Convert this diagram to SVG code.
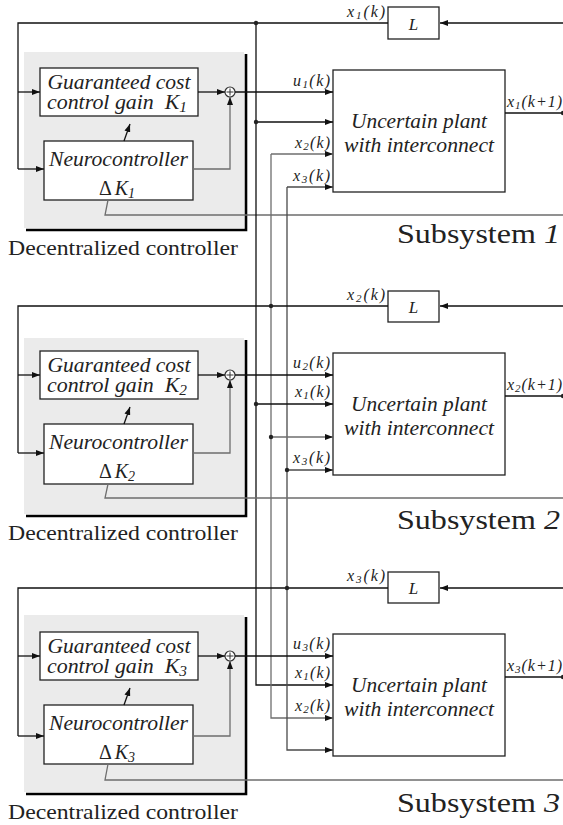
<svg xmlns="http://www.w3.org/2000/svg" width="563" height="825" viewBox="0 0 563 825">
<style>
.ln{fill:none;stroke:#111;stroke-width:1.3}
.gr{fill:none;stroke:#6e6e6e;stroke-width:1.3}
.dg{fill:none;stroke:#4a4a4a;stroke-width:1.3}
.box{fill:#fff;stroke:#222;stroke-width:1.3}
.panel{fill:#ebebeb;stroke:none}
.sh{fill:none;stroke:#000;stroke-width:2.6}
.t{font-family:'Liberation Serif','Times New Roman',Times,serif;fill:#222}
.it{font-family:'Liberation Serif','Times New Roman',Times,serif;font-style:italic;fill:#222}
.lb{font-family:'Liberation Serif','Times New Roman',Times,serif;font-style:italic;fill:#222;font-size:16px}
.sb{font-size:11px}
.dot{fill:#222}
.arr{marker-end:url(#ah)}
</style>
<defs>
<marker id="ah" markerUnits="userSpaceOnUse" markerWidth="8" markerHeight="6" refX="8" refY="3" orient="auto">
<path d="M0,0 L8,3 L0,6 z" fill="#111"/>
</marker>
</defs>

<!-- Subsystem 1 -->
<g id="panel1">
<rect class="panel" x="24" y="52" width="220" height="176"/>
<polyline class="sh" points="246,54 246,230 26,230"/>
</g>
<g id="gain1">
<rect class="box" x="40" y="68" width="158" height="48"/>
<text class="it" x="119" y="89" font-size="20" text-anchor="middle" textLength="143" lengthAdjust="spacingAndGlyphs">Guaranteed cost</text>
<text class="it" x="117" y="109" font-size="20" text-anchor="middle" textLength="140" lengthAdjust="spacingAndGlyphs">control gain <tspan dx="5">K</tspan><tspan font-size="14" dy="3">1</tspan></text>
</g>
<g id="neuro1">
<rect class="box" x="44" y="141" width="149" height="59"/>
<text class="it" x="118.5" y="166" font-size="20" text-anchor="middle" textLength="139" lengthAdjust="spacingAndGlyphs">Neurocontroller</text>
<text class="t" x="117" y="195" font-size="20" text-anchor="middle"><tspan>Δ</tspan><tspan font-style="italic" dx="3">K</tspan><tspan font-style="italic" font-size="14" dy="3">1</tspan></text>
</g>
<g id="sum1">
<circle cx="230" cy="92" r="5" fill="#fff" stroke="#333" stroke-width="1.2"/>
<path d="M226.5,92 H233.5 M230,88.5 V95.5" stroke="#333" stroke-width="1"/>
</g>
<g id="L1">
<rect class="box" x="388" y="7" width="51" height="32"/>
<text class="it" x="413.5" y="30" font-size="17" text-anchor="middle">L</text>
</g>
<g id="plant1">
<rect class="box" x="333" y="70" width="172" height="122"/>
<text class="it" x="419" y="128" font-size="20" text-anchor="middle" textLength="136" lengthAdjust="spacingAndGlyphs">Uncertain plant</text>
<text class="it" x="419" y="152" font-size="20" text-anchor="middle" textLength="150" lengthAdjust="spacingAndGlyphs">with interconnect</text>
</g>
<g id="text1">
<text class="t" x="8" y="255" font-size="22" textLength="230" lengthAdjust="spacingAndGlyphs">Decentralized controller</text>
<text class="t" x="397" y="243" font-size="28" textLength="163" lengthAdjust="spacingAndGlyphs">Subsystem <tspan font-style="italic">1</tspan></text>
</g>

<!-- Subsystem 2 -->
<g id="panel2">
<rect class="panel" x="24" y="338" width="220" height="176"/>
<polyline class="sh" points="246,340 246,516 26,516"/>
</g>
<g id="gain2">
<rect class="box" x="40" y="351" width="158" height="48"/>
<text class="it" x="119" y="372" font-size="20" text-anchor="middle" textLength="143" lengthAdjust="spacingAndGlyphs">Guaranteed cost</text>
<text class="it" x="117" y="392" font-size="20" text-anchor="middle" textLength="140" lengthAdjust="spacingAndGlyphs">control gain <tspan dx="5">K</tspan><tspan font-size="14" dy="3">2</tspan></text>
</g>
<g id="neuro2">
<rect class="box" x="44" y="424" width="149" height="60"/>
<text class="it" x="118.5" y="449" font-size="20" text-anchor="middle" textLength="139" lengthAdjust="spacingAndGlyphs">Neurocontroller</text>
<text class="t" x="117" y="478" font-size="20" text-anchor="middle"><tspan>Δ</tspan><tspan font-style="italic" dx="3">K</tspan><tspan font-style="italic" font-size="14" dy="3">2</tspan></text>
</g>
<g id="sum2">
<circle cx="230" cy="375" r="5" fill="#fff" stroke="#333" stroke-width="1.2"/>
<path d="M226.5,375 H233.5 M230,371.5 V378.5" stroke="#333" stroke-width="1"/>
</g>
<g id="L2">
<rect class="box" x="388" y="291" width="51" height="31"/>
<text class="it" x="413.5" y="313" font-size="17" text-anchor="middle">L</text>
</g>
<g id="plant2">
<rect class="box" x="333" y="353" width="172" height="122"/>
<text class="it" x="419" y="411" font-size="20" text-anchor="middle" textLength="136" lengthAdjust="spacingAndGlyphs">Uncertain plant</text>
<text class="it" x="419" y="435" font-size="20" text-anchor="middle" textLength="150" lengthAdjust="spacingAndGlyphs">with interconnect</text>
</g>
<g id="text2">
<text class="t" x="8" y="540" font-size="22" textLength="230" lengthAdjust="spacingAndGlyphs">Decentralized controller</text>
<text class="t" x="397" y="529" font-size="28" textLength="163" lengthAdjust="spacingAndGlyphs">Subsystem <tspan font-style="italic">2</tspan></text>
</g>

<!-- Subsystem 3 -->
<g id="panel3">
<rect class="panel" x="24" y="615" width="220" height="177"/>
<polyline class="sh" points="246,617 246,794 26,794"/>
</g>
<g id="gain3">
<rect class="box" x="40" y="632" width="158" height="48"/>
<text class="it" x="119" y="653" font-size="20" text-anchor="middle" textLength="143" lengthAdjust="spacingAndGlyphs">Guaranteed cost</text>
<text class="it" x="117" y="673" font-size="20" text-anchor="middle" textLength="140" lengthAdjust="spacingAndGlyphs">control gain <tspan dx="5">K</tspan><tspan font-size="14" dy="3">3</tspan></text>
</g>
<g id="neuro3">
<rect class="box" x="44" y="705" width="149" height="59"/>
<text class="it" x="118.5" y="730" font-size="20" text-anchor="middle" textLength="139" lengthAdjust="spacingAndGlyphs">Neurocontroller</text>
<text class="t" x="117" y="759" font-size="20" text-anchor="middle"><tspan>Δ</tspan><tspan font-style="italic" dx="3">K</tspan><tspan font-style="italic" font-size="14" dy="3">3</tspan></text>
</g>
<g id="sum3">
<circle cx="230" cy="656" r="5" fill="#fff" stroke="#333" stroke-width="1.2"/>
<path d="M226.5,656 H233.5 M230,652.5 V659.5" stroke="#333" stroke-width="1"/>
</g>
<g id="L3">
<rect class="box" x="388" y="572" width="51" height="31"/>
<text class="it" x="413.5" y="594" font-size="17" text-anchor="middle">L</text>
</g>
<g id="plant3">
<rect class="box" x="333" y="634" width="172" height="122"/>
<text class="it" x="419" y="692" font-size="20" text-anchor="middle" textLength="136" lengthAdjust="spacingAndGlyphs">Uncertain plant</text>
<text class="it" x="419" y="716" font-size="20" text-anchor="middle" textLength="150" lengthAdjust="spacingAndGlyphs">with interconnect</text>
</g>
<g id="text3">
<text class="t" x="8" y="819" font-size="22" textLength="230" lengthAdjust="spacingAndGlyphs">Decentralized controller</text>
<text class="t" x="397" y="812" font-size="28" textLength="163" lengthAdjust="spacingAndGlyphs">Subsystem <tspan font-style="italic">3</tspan></text>
</g>

<g id="connectors">
<!-- Subsystem 1 -->
<path class="ln arr" d="M563,23 H440"/>
<path class="ln" d="M388,23 H18 V169"/>
<path class="ln arr" d="M18,92 H40"/>
<path class="ln arr" d="M18,169 H44"/>
<path class="ln arr" d="M198,92 H225"/>
<path class="gr arr" d="M193,169 H230 V97"/>
<path class="ln arr" d="M124,141 L130,124"/>
<path class="ln arr" d="M235,92 H333"/>
<path class="ln arr" d="M256,122 H333"/>
<path class="ln" d="M505,113 H563"/>
<path class="gr" d="M108,200 L105,215 H563"/>
<!-- vertical interconnect lines -->
<path class="ln arr" d="M256,23 V685 H333"/>
<path class="gr arr" d="M271,154 V718 H333"/>
<path class="gr arr" d="M271,154 H333"/>
<path class="dg arr" d="M287,187 V750 H333"/>
<path class="dg arr" d="M287,187 H333"/>
<!-- Subsystem 2 -->
<path class="ln arr" d="M563,306 H440"/>
<path class="ln" d="M388,306 H18 V453"/>
<path class="ln arr" d="M18,375 H40"/>
<path class="ln arr" d="M18,453 H44"/>
<path class="ln arr" d="M198,375 H225"/>
<path class="gr arr" d="M193,453 H230 V380"/>
<path class="ln arr" d="M124,424 L130,407"/>
<path class="ln arr" d="M235,375 H333"/>
<path class="ln arr" d="M256,404 H333"/>
<path class="gr arr" d="M271,437 H333"/>
<path class="dg arr" d="M287,470 H333"/>
<path class="ln" d="M505,396 H563"/>
<path class="gr" d="M108,484 L105,498 H563"/>
<!-- Subsystem 3 -->
<path class="ln arr" d="M563,588 H440"/>
<path class="ln" d="M388,588 H18 V736"/>
<path class="ln arr" d="M18,656 H40"/>
<path class="ln arr" d="M18,736 H44"/>
<path class="ln arr" d="M198,656 H225"/>
<path class="gr arr" d="M193,736 H230 V661"/>
<path class="ln arr" d="M124,705 L130,688"/>
<path class="ln arr" d="M235,656 H333"/>
<path class="ln" d="M505,677 H563"/>
<path class="gr" d="M108,764 L105,780 H563"/>
<!-- junction dots -->
<circle class="dot" cx="256" cy="23" r="2.2"/>
<circle class="dot" cx="256" cy="122" r="2.2"/>
<circle class="dot" cx="563" cy="113" r="2.2"/>
<circle class="dot" cx="271" cy="306" r="2.2"/>
<circle class="dot" cx="256" cy="404" r="2.2"/>
<circle class="dot" cx="271" cy="437" r="2.2"/>
<circle class="dot" cx="287" cy="470" r="2.2"/>
<circle class="dot" cx="563" cy="396" r="2.2"/>
<circle class="dot" cx="287" cy="588" r="2.2"/>
<circle class="dot" cx="563" cy="677" r="2.2"/>
</g>

<g id="labels">
<text class="lb" x="385" y="17" text-anchor="end" textLength="38">x<tspan class="sb" dy="2">1</tspan><tspan dy="-2">(k)</tspan></text>
<text class="lb" x="330" y="86" text-anchor="end" textLength="37">u<tspan class="sb" dy="2">1</tspan><tspan dy="-2">(k)</tspan></text>
<text class="lb" x="330" y="148" text-anchor="end" textLength="35">x<tspan class="sb" dy="2">2</tspan><tspan dy="-2">(k)</tspan></text>
<text class="lb" x="330" y="181" text-anchor="end" textLength="37">x<tspan class="sb" dy="2">3</tspan><tspan dy="-2">(k)</tspan></text>
<text class="lb" x="507" y="107" textLength="55">x<tspan class="sb" dy="2">1</tspan><tspan dy="-2">(k+1)</tspan></text>

<text class="lb" x="385" y="300" text-anchor="end" textLength="38">x<tspan class="sb" dy="2">2</tspan><tspan dy="-2">(k)</tspan></text>
<text class="lb" x="330" y="368" text-anchor="end" textLength="37">u<tspan class="sb" dy="2">2</tspan><tspan dy="-2">(k)</tspan></text>
<text class="lb" x="330" y="397" text-anchor="end" textLength="35">x<tspan class="sb" dy="2">1</tspan><tspan dy="-2">(k)</tspan></text>
<text class="lb" x="330" y="463" text-anchor="end" textLength="37">x<tspan class="sb" dy="2">3</tspan><tspan dy="-2">(k)</tspan></text>
<text class="lb" x="507" y="390" textLength="55">x<tspan class="sb" dy="2">2</tspan><tspan dy="-2">(k+1)</tspan></text>

<text class="lb" x="385" y="581" text-anchor="end" textLength="38">x<tspan class="sb" dy="2">3</tspan><tspan dy="-2">(k)</tspan></text>
<text class="lb" x="330" y="649" text-anchor="end" textLength="37">u<tspan class="sb" dy="2">3</tspan><tspan dy="-2">(k)</tspan></text>
<text class="lb" x="330" y="678" text-anchor="end" textLength="35">x<tspan class="sb" dy="2">1</tspan><tspan dy="-2">(k)</tspan></text>
<text class="lb" x="330" y="711" text-anchor="end" textLength="35">x<tspan class="sb" dy="2">2</tspan><tspan dy="-2">(k)</tspan></text>
<text class="lb" x="507" y="671" textLength="55">x<tspan class="sb" dy="2">3</tspan><tspan dy="-2">(k+1)</tspan></text>
</g>
</svg>
